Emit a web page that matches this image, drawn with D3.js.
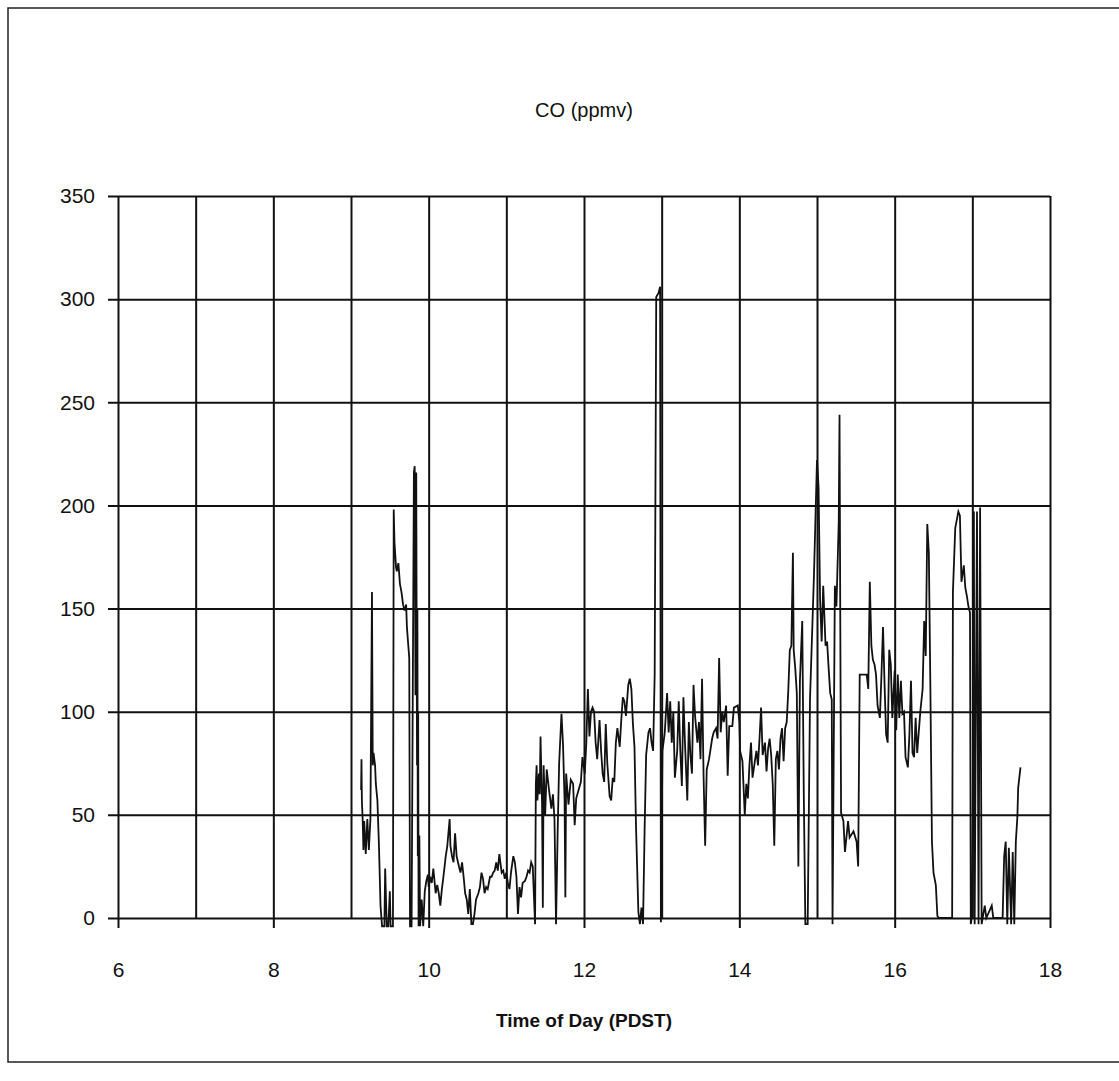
<!DOCTYPE html>
<html>
<head>
<meta charset="utf-8">
<script src="https://cdn.jsdelivr.net/npm/d3@7"></script>
<style>
  body { margin: 0; background: #fff; }
  text { font-family: "Liberation Sans", Arial, sans-serif; fill: #111; }
</style>
</head>
<body>
<div id="chart"></div>
<script>
// chart texts
const chartTitle = "CO (ppmv)";
const xTitle = "Time of Day (PDST)";

// tick values
const xTickLabels = [6, 8, 10, 12, 14, 16, 18];
const xGridHours = [6, 7, 8, 9, 10, 11, 12, 13, 14, 15, 16, 17, 18];
const yTickLabels = [0, 50, 100, 150, 200, 250, 300, 350];

// CO series (hour of day, ppmv)
const timeHrs = [
  9.13, 9.135, 9.14, 9.15, 9.16, 9.17, 9.19, 9.21, 9.23, 9.25, 9.27, 9.28, 9.29, 9.31, 9.32, 9.34, 9.36, 9.38,
  9.40, 9.43, 9.44, 9.46, 9.48, 9.50, 9.51, 9.54, 9.55, 9.56, 9.58, 9.59, 9.61, 9.63, 9.65, 9.67, 9.69, 9.71,
  9.72, 9.74, 9.75, 9.76, 9.78, 9.81, 9.82, 9.83, 9.84, 9.85, 9.855, 9.86, 9.865, 9.87, 9.88, 9.89, 9.91, 9.93,
  9.95, 9.97, 9.99, 10.00, 10.02, 10.04, 10.06, 10.09, 10.11, 10.13, 10.15, 10.17, 10.19, 10.22, 10.24, 10.27,
  10.28, 10.30, 10.32, 10.34, 10.36, 10.39, 10.41, 10.43, 10.45, 10.47, 10.49, 10.51, 10.53, 10.55, 10.57, 10.59,
  10.61, 10.64, 10.66, 10.68, 10.70, 10.72, 10.74, 10.76, 10.79, 10.81, 10.83, 10.85, 10.87, 10.89, 10.91, 10.94,
  10.96, 10.98, 11.00, 11.02, 11.04, 11.06, 11.09, 11.11, 11.13, 11.15, 11.17, 11.19, 11.21, 11.24, 11.26, 11.28,
  11.30, 11.32, 11.34, 11.37, 11.38, 11.39, 11.40, 11.42, 11.43, 11.44, 11.46, 11.47, 11.48, 11.50, 11.52, 11.55,
  11.58, 11.60, 11.62, 11.64, 11.66, 11.68, 11.71, 11.73, 11.75, 11.76, 11.77, 11.80, 11.83, 11.86, 11.88, 11.90,
  11.93, 11.96, 11.98, 12.01, 12.03, 12.05, 12.07, 12.09, 12.11, 12.13, 12.15, 12.17, 12.20, 12.22, 12.24, 12.26,
  12.28, 12.30, 12.33, 12.35, 12.37, 12.39, 12.41, 12.43, 12.46, 12.48, 12.50, 12.52, 12.54, 12.57, 12.59, 12.61,
  12.63, 12.65, 12.67, 12.70, 12.72, 12.74, 12.76, 12.78, 12.80, 12.83, 12.85, 12.87, 12.89, 12.91, 12.93, 12.96,
  12.98, 12.99, 13.01, 13.04, 13.07, 13.09, 13.11, 13.13, 13.15, 13.17, 13.20, 13.22, 13.24, 13.26, 13.28, 13.30,
  13.33, 13.35, 13.37, 13.39, 13.41, 13.43, 13.46, 13.48, 13.50, 13.52, 13.54, 13.56, 13.58, 13.61, 13.65, 13.67,
  13.70, 13.72, 13.74, 13.76, 13.78, 13.80, 13.83, 13.85, 13.87, 13.91, 13.93, 13.98, 14.00, 14.01, 14.04, 14.07,
  14.09, 14.11, 14.13, 14.15, 14.17, 14.20, 14.22, 14.24, 14.26, 14.28, 14.30, 14.33, 14.35, 14.37, 14.39, 14.41,
  14.43, 14.45, 14.47, 14.49, 14.51, 14.53, 14.55, 14.57, 14.59, 14.61, 14.63, 14.65, 14.67, 14.69, 14.70, 14.72,
  14.74, 14.76, 14.78, 14.81, 14.83, 14.85, 14.88, 14.91, 14.96, 15.00, 15.02, 15.04, 15.06, 15.08, 15.11, 15.13,
  15.15, 15.17, 15.19, 15.20, 15.22, 15.23, 15.25, 15.28, 15.29, 15.30, 15.31, 15.34, 15.36, 15.40, 15.42, 15.47,
  15.51, 15.53, 15.55, 15.59, 15.64, 15.66, 15.68, 15.70, 15.72, 15.74, 15.76, 15.78, 15.81, 15.83, 15.85, 15.87,
  15.89, 15.91, 15.93, 15.95, 15.97, 16.00, 16.02, 16.04, 16.06, 16.08, 16.10, 16.12, 16.14, 16.17, 16.19, 16.21,
  16.23, 16.25, 16.27, 16.29, 16.31, 16.33, 16.36, 16.38, 16.40, 16.42, 16.44, 16.46, 16.48, 16.50, 16.53, 16.55,
  16.57, 16.74, 16.75, 16.78, 16.82, 16.84, 16.86, 16.89, 16.91, 16.93, 16.95, 16.97, 16.98, 17.00, 17.02, 17.03,
  17.06, 17.08, 17.10, 17.12, 17.16, 17.18, 17.25, 17.27, 17.39, 17.41, 17.43, 17.45, 17.47, 17.50, 17.52, 17.54,
  17.56, 17.58, 17.59, 17.62
];
const coPpmv = [
  62, 77, 57, 48, 33, 47, 31, 48, 33, 48, 158, 74, 80, 74, 65, 57, 35, 6,
  -4, -4, 24, -4, -4, 13, -4, -4, 198, 182, 170, 168, 172, 162, 158, 152, 149, 152,
  141, 131, 126, -4, -4, 216, 219, 108, 216, 74, 150, 30, 100, -4, 40, -4, 9, -4,
  13, 18, 21, 15, 20, 17, 24, 12, 16, 12, 6, 14, 20, 30, 35, 48,
  35, 30, 27, 41, 30, 25, 22, 27, 20, 12, 9, 2, 14, -3, -3, 2,
  9, 12, 15, 22, 19, 12, 15, 14, 20, 20, 22, 23, 27, 23, 31, 22,
  23, 19, 22, 17, 14, 22, 30, 27, 20, 2, 15, 10, 17, 18, 20, 23,
  22, 27, 25, -3, 65, 74, 57, 70, 60, 88, 55, 5, 74, 50, 72, 62,
  53, 60, 48, -3, 40, 75, 99, 84, 57, 10, 70, 55, 67, 65, 45, 58,
  62, 66, 78, 70, 85, 111, 88, 100, 102, 100, 85, 77, 96, 81, 70, 66,
  94, 75, 59, 57, 68, 66, 85, 92, 83, 96, 107, 105, 98, 113, 116, 111,
  94, 83, 44, 3, -3, 5, -3, 42, 79, 90, 92, 85, 81, 118, 301, 303,
  306, -2, 81, 90, 109, 90, 105, 85, 100, 68, 81, 105, 81, 64, 107, 85,
  57, 95, 79, 70, 113, 98, 85, 95, 77, 116, 68, 35, 72, 77, 87, 90,
  92, 87, 126, 90, 100, 95, 103, 69, 93, 93, 102, 103, 95, 81, 76, 50,
  65, 58, 74, 85, 68, 76, 81, 74, 87, 102, 79, 85, 71, 82, 87, 79,
  65, 35, 77, 81, 72, 87, 92, 76, 92, 95, 110, 130, 132, 177, 130, 121,
  109, 25, 115, 144, 60, -3, -3, 106, 165, 222, 209, 154, 134, 161, 132, 134,
  121, 109, 106, -3, 106, 161, 151, 192, 244, 142, 51, 47, 32, 47, 39, 42,
  37, 25, 118, 118, 118, 111, 163, 132, 125, 123, 118, 103, 97, 118, 141, 113,
  89, 85, 130, 123, 97, 120, 91, 118, 97, 115, 99, 100, 78, 73, 89, 115,
  80, 78, 97, 80, 90, 100, 111, 144, 127, 191, 177, 111, 37, 22, 16, 1,
  0, 0, 158, 189, 197, 195, 163, 171, 160, 156, 151, 148, -3, 2, 197, -3,
  197, -3, 199, -3, 6, 0, 6, 0, 0, 30, 37, -3, 34, -3, 32, -3,
  37, 49, 63, 73
];

const co_data = timeHrs.map((t, i) => ({ t: t, v: coPpmv[i] }));

// page and plot sizes
const w = 1119;
const h = 1081;
const plotLeft = 118;
const plotRight = 1050;
const plotTop = 196;
const plotBottom = 918;

const svg = d3.select("#chart")
            .append("svg")
            .attr("width", w)
            .attr("height", h)

// outer frame of the figure (right edge falls just off the page)
svg.append("rect")
    .attr("x", 8)
    .attr("y", 8)
    .attr("width", w)
    .attr("height", 1054)
    .attr("fill", "none")
    .attr("stroke", "#222")
    .attr("stroke-width", 1.5)

// scales
const xScale = d3.scaleLinear()
xScale.domain([6, 18])
xScale.range([plotLeft, plotRight])

const yScale = d3.scaleLinear()
yScale.domain([0, 350])
yScale.range([plotBottom, plotTop])

// vertical grid lines, one per hour
svg.append("g")
    .attr("transform", "translate(0, " + plotTop + ")")
    .call(d3.axisBottom(xScale).tickValues(xGridHours).tickSize(plotBottom - plotTop).tickFormat(""))
    .call(g => g.select(".domain").remove())
    .selectAll("line")
    .attr("stroke", "#111")
    .attr("stroke-width", 2)

// horizontal grid lines, with a short tick left of the axis
svg.append("g")
    .attr("transform", "translate(" + plotRight + ", 0)")
    .call(d3.axisLeft(yScale).tickValues(yTickLabels).tickSize(plotRight - plotLeft + 10).tickFormat(""))
    .call(g => g.select(".domain").remove())
    .selectAll("line")
    .attr("stroke", "#111")
    .attr("stroke-width", 2)

// x axis with labels every 2 hours
const xAxis = svg.append("g")
    .attr("transform", "translate(0, " + plotBottom + ")")
    .call(d3.axisBottom(xScale).tickValues(xTickLabels).tickSize(10).tickPadding(34).tickFormat(d3.format("d")))
xAxis.select(".domain").remove()
xAxis.selectAll("line").attr("stroke", "#111").attr("stroke-width", 2)
xAxis.selectAll("text").attr("font-size", 21).attr("fill", "#111")
    .attr("font-family", "Liberation Sans, Arial, sans-serif")

// y axis labels
const yAxis = svg.append("g")
    .attr("transform", "translate(" + plotLeft + ", 0)")
    .call(d3.axisLeft(yScale).tickValues(yTickLabels).tickSize(0).tickPadding(23))
yAxis.select(".domain").remove()
yAxis.selectAll("text").attr("font-size", 21).attr("fill", "#111")
    .attr("font-family", "Liberation Sans, Arial, sans-serif")

// the CO trace
const co_line = d3.line()
    .x((d) => xScale(d.t))
    .y((d) => yScale(d.v))

svg.append("path")
    .attr("d", co_line(co_data))
    .attr("fill", "none")
    .attr("stroke", "#111")
    .attr("stroke-width", 1.8)
    .attr("stroke-linejoin", "miter")

// titles
svg.append("text")
    .attr("x", (plotLeft + plotRight) / 2)
    .attr("y", 117)
    .attr("text-anchor", "middle")
    .attr("font-size", 20)
    .text(chartTitle)

svg.append("text")
    .attr("x", (plotLeft + plotRight) / 2)
    .attr("y", 1027)
    .attr("text-anchor", "middle")
    .attr("font-size", 19)
    .attr("font-weight", "bold")
    .text(xTitle)
</script>
</body>
</html>
